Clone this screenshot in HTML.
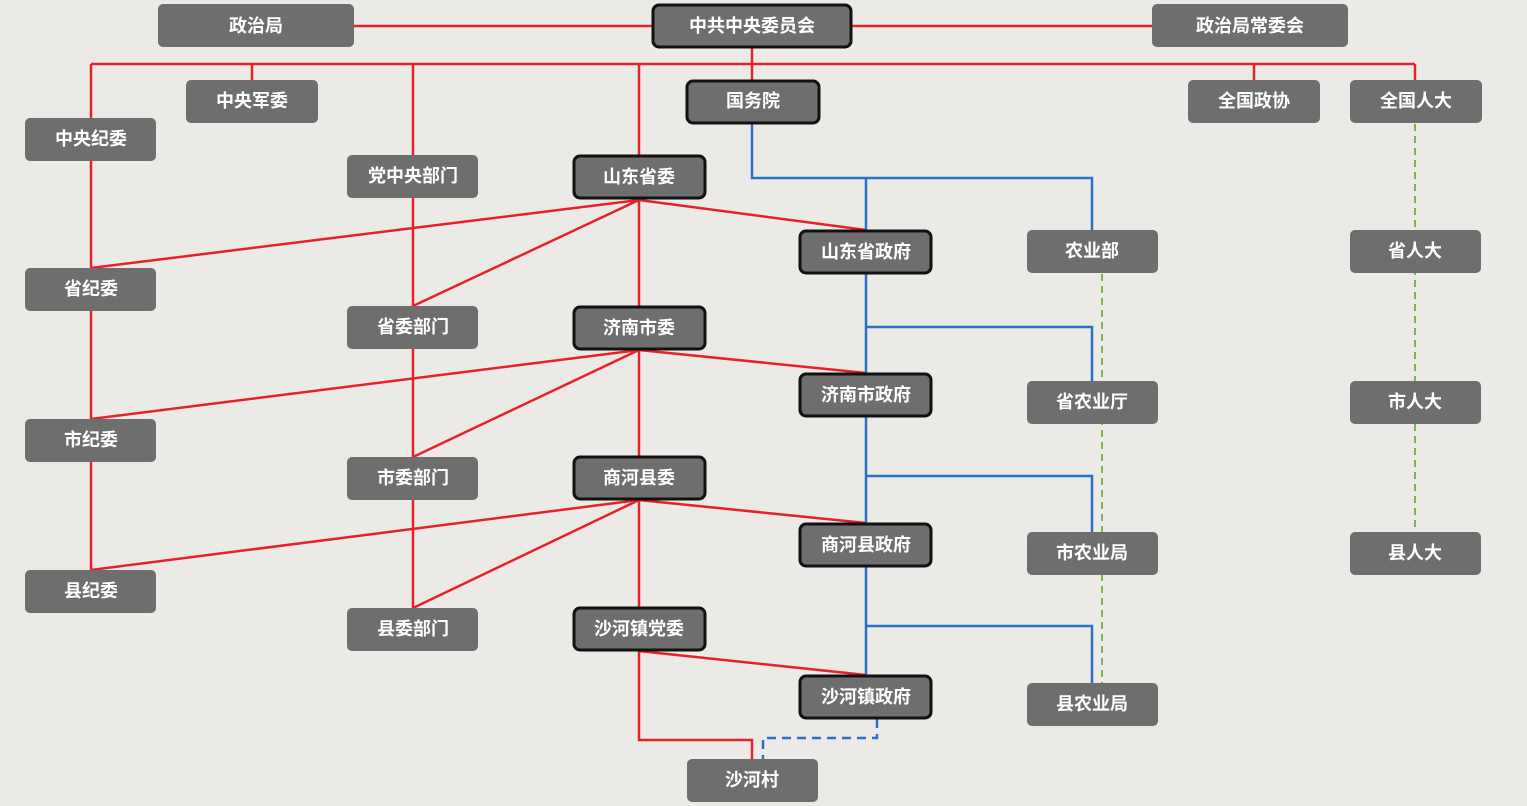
<!DOCTYPE html><html><head><meta charset="utf-8"><style>
body{margin:0;background:#ebeae6;}
svg{display:block}
text{font-family:"Liberation Sans","Noto Sans CJK SC",sans-serif;font-size:18px;font-weight:bold;fill:#fff;text-anchor:middle;dominant-baseline:central}
</style></head><body>
<svg width="1527" height="806" viewBox="0 0 1527 806" xmlns="http://www.w3.org/2000/svg">
<rect width="1527" height="806" fill="#ebeae6"/>
<g stroke="#e8202a" stroke-width="2.5" fill="none">
<path d="M354 26H652M852 26H1152"/>
<path d="M91 64H1415M91 64V118M252 64V80M413 64V155M639 64V155M752 48V80M1254 64V80M1415 64V80"/>
<path d="M91 161V268M91 311V419M91 462V570M413 198V306M413 349V457M413 500V608M639 199V306M639 350V456M639 500V607"/>
<path d="M639 651V740H752V759"/>
<path d="M639 200L91 268M639 200L413 306M639 200L866 230M639 350L91 419M639 350L413 457M639 350L866 373M639 500L91 570M639 500L413 608M639 500L866 523M639 651L866 675"/>
</g>
<g stroke="#2a72c8" stroke-width="2.5" fill="none">
<path d="M752 124V178H1092V230M866 178V230M866 274V373M866 327H1092V381M866 417V523M866 476H1092V532M866 567V675M866 626H1092V683"/>
<path d="M877 719V738H763V759" stroke-dasharray="9 6"/>
</g>
<g stroke="#7ab648" stroke-width="2" stroke-dasharray="7 5" fill="none">
<path d="M1102 274V683M1415 124V532"/>
</g>
<g fill="#6e6e6e">
<rect x="158" y="4" width="196" height="43" rx="5"/>
<rect x="1152" y="4" width="196" height="43" rx="5"/>
<rect x="186" y="80" width="132" height="43" rx="5"/>
<rect x="1188" y="80" width="132" height="43" rx="5"/>
<rect x="1350" y="80" width="132" height="43" rx="5"/>
<rect x="25" y="118" width="131" height="43" rx="5"/>
<rect x="347" y="155" width="131" height="43" rx="5"/>
<rect x="1027" y="230" width="131" height="43" rx="5"/>
<rect x="1350" y="230" width="131" height="43" rx="5"/>
<rect x="25" y="268" width="131" height="43" rx="5"/>
<rect x="347" y="306" width="131" height="43" rx="5"/>
<rect x="1027" y="381" width="131" height="43" rx="5"/>
<rect x="1350" y="381" width="131" height="43" rx="5"/>
<rect x="25" y="419" width="131" height="43" rx="5"/>
<rect x="347" y="457" width="131" height="43" rx="5"/>
<rect x="1027" y="532" width="131" height="43" rx="5"/>
<rect x="1350" y="532" width="131" height="43" rx="5"/>
<rect x="25" y="570" width="131" height="43" rx="5"/>
<rect x="347" y="608" width="131" height="43" rx="5"/>
<rect x="1027" y="683" width="131" height="43" rx="5"/>
<rect x="687" y="759" width="131" height="43" rx="5"/>
</g>
<g fill="#6e6e6e" stroke="#111" stroke-width="3">
<rect x="653" y="5" width="198" height="42" rx="6"/>
<rect x="687" y="81" width="132" height="42" rx="6"/>
<rect x="574" y="156" width="131" height="42" rx="6"/>
<rect x="800" y="231" width="131" height="42" rx="6"/>
<rect x="574" y="307" width="131" height="42" rx="6"/>
<rect x="800" y="374" width="131" height="42" rx="6"/>
<rect x="574" y="457" width="131" height="42" rx="6"/>
<rect x="800" y="524" width="131" height="42" rx="6"/>
<rect x="574" y="608" width="131" height="42" rx="6"/>
<rect x="800" y="676" width="131" height="42" rx="6"/>
</g>
<text x="256" y="26">政治局</text>
<text x="752" y="26">中共中央委员会</text>
<text x="1250" y="26">政治局常委会</text>
<text x="252" y="101">中央军委</text>
<text x="753" y="101">国务院</text>
<text x="1254" y="101">全国政协</text>
<text x="1416" y="101">全国人大</text>
<text x="91" y="139">中央纪委</text>
<text x="413" y="176">党中央部门</text>
<text x="639" y="177">山东省委</text>
<text x="866" y="252">山东省政府</text>
<text x="1092" y="251">农业部</text>
<text x="1415" y="251">省人大</text>
<text x="91" y="289">省纪委</text>
<text x="413" y="327">省委部门</text>
<text x="639" y="328">济南市委</text>
<text x="866" y="395">济南市政府</text>
<text x="1092" y="402">省农业厅</text>
<text x="1415" y="402">市人大</text>
<text x="91" y="440">市纪委</text>
<text x="413" y="478">市委部门</text>
<text x="639" y="478">商河县委</text>
<text x="866" y="545">商河县政府</text>
<text x="1092" y="553">市农业局</text>
<text x="1415" y="553">县人大</text>
<text x="91" y="591">县纪委</text>
<text x="413" y="629">县委部门</text>
<text x="639" y="629">沙河镇党委</text>
<text x="866" y="697">沙河镇政府</text>
<text x="1092" y="704">县农业局</text>
<text x="752" y="780">沙河村</text>
</svg>
</body></html>
